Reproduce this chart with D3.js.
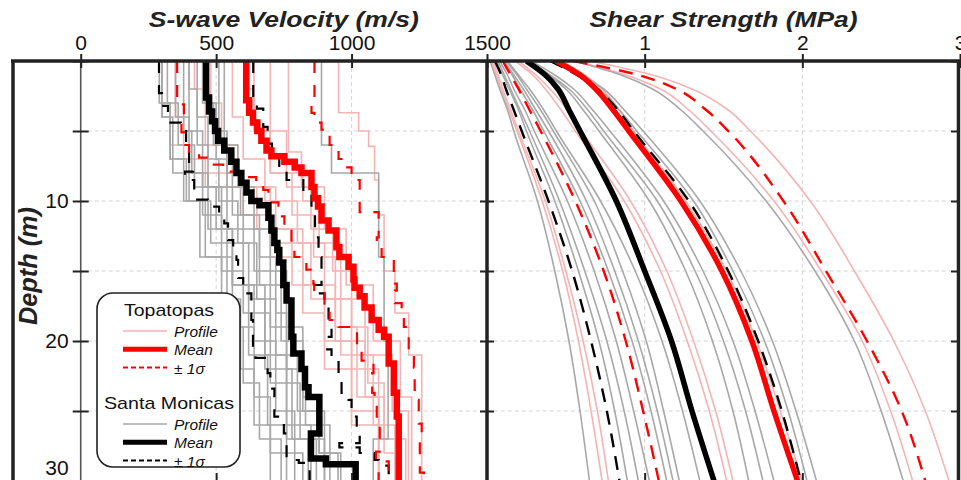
<!DOCTYPE html>
<html><head><meta charset="utf-8">
<script src="https://cdn.jsdelivr.net/npm/d3@7"></script>
<style>
body{margin:0;background:#fff;}
svg{display:block;font-family:"Liberation Sans",Arial,sans-serif;}
</style></head><body>
<svg id="chart" width="961" height="480"></svg>
<script>
// ---- axis ticks ----
const velocityTicks = [0, 500, 1000, 1500];
const strengthTicks = [1, 2, 3];
const depthTicks = [0, 5, 10, 15, 20, 25, 30];
const depthLabels = [10, 20, 30];

// ---- S-wave velocity profiles: layer tops (m) and Vs (m/s) ----
const smProfileTops = [
  [0,4,7,10,14,19,24,28], [0,3,6,9,12,16,21,26], [0,5,8,11,15,18,23,27],
  [0,2,6,9,13,17,22,27], [0,4,7,10,13,17,21,25], [0,3,6,9,12,16,20,25,28],
  [0,5,8,11,14,18,22,26], [0,3,7,10,14,19,23,27], [0,4,8,12,16,20,25],
  [0,6,9,12,15,19,24,28], [0,6,8,14,20,27], [0,3,7,11,15,19,23,27],
  [0,4,8,10,13,17,22,26], [0,5,9,12,16,21,26]
];
const smProfileVs = [
  [300,330,380,440,560,640,700,820], [320,360,420,500,560,620,690,760], [380,410,450,520,600,700,760,870],
  [400,430,470,540,620,680,780,840], [430,470,510,580,650,720,800,900], [450,490,540,600,660,740,820,880,950],
  [510,540,590,660,720,760,830,920], [290,330,390,460,520,600,660,740], [350,400,470,560,640,720,790],
  [530,580,640,700,760,820,880,960], [889,926,1100,1120,1135,1080], [460,500,560,640,700,760,810,900],
  [300,340,400,480,540,590,640,700], [400,450,520,600,680,760,850]
];
const tpProfileTops = [
  [0,3,6,8,11,14,18,22,26], [0,4,7,9,12,16,20,25], [0,2,5,8,10,13,17,21,25],
  [0,6.5,9,12,16,20,24], [0,3.7,5,6.1,8.5,11,15,18,21], [0,4,7,10,13,17,22,27],
  [0,3,6,9,12,16,20,24,28], [0,5,8,11,14,19,24], [0,2,6,9,13,17,21,26],
  [0,5,9,12,15,19,23,27]
];
const tpProfileVs = [
  [300,330,400,600,700,820,900,1000,1100], [350,380,460,650,780,900,1000,1100], [620,640,700,820,880,960,1050,1150,1210],
  [767,815,900,980,1080,1180,1222], [952,1026,1063,1085,1100,1120,1160,1211,1259], [560,600,680,800,900,1000,1100,1170],
  [480,520,580,700,820,940,1050,1120,1180], [640,700,780,860,940,1020,1100], [420,460,540,720,850,960,1080,1160],
  [700,760,850,930,1000,1060,1120,1200]
];

// mean and ±1σ velocity profiles
const smMeanTops = [0,2.6,3.6,4.3,5.0,5.7,6.4,7.2,8.0,8.7,9.4,10.0,10.3,11.2,12.1,13.0,13.5,14.4,16.0,17.1,19.7,20.9,22.0,23.3,24.0,26.6,28.4,28.8];
const smMeanVs   = [463,474,485,496,507,530,556,575,593,612,630,660,693,704,715,726,733,748,760,778,785,815,828,841,881,850,905,1015];
const smLowTops  = [0,2.3,3.2,4.4,5.0,6.0,7.2,7.9,8.5,9.4,9.9,10.4,11.0,11.6,12.8,13.5,14.2,15.5,16.6,18.5,20.6,21.2,22.3,23.4,25.4,26.6,28.5,28.7];
const smLowVs    = [289,300,322,370,389,400,415,385,419,430,470,511,530,544,563,575,581,600,630,636,645,690,700,715,750,760,805,845];
const smHighTops = [0,2.8,3.4,4.7,5.9,6.5,7.5,8.5,9.2,10.5,12.6,14.0,16.0,16.6,17.3,18.7,19.7,20.6,21.4,23.0,23.7,24.2,25.4,26.6,27.3,27.6,28.0,28.5,28.9];
const smHighVs   = [637,650,674,690,706,733,760,822,852,865,878,889,863,900,915,926,910,926,952,963,989,1000,1019,1030,955,1030,1085,1100,1137];
const tpMeanTops = [0,2.8,3.7,4.4,5.0,5.7,6.4,6.8,7.2,7.6,8.0,9.0,9.8,10.4,11.4,12.1,13.3,14.0,14.7,15.6,16.2,16.8,17.6,18.5,19.2,19.7,21.6,23.7,25.4];
const tpMeanVs   = [611,622,636,652,667,686,704,752,790,815,852,863,876,889,915,944,955,989,1007,1011,1030,1048,1074,1100,1120,1137,1156,1167,1174];
const tpLowTops  = [0,2.6,3.1,4.4,5.1,6.0,6.5,6.9,7.4,7.9,8.3,8.7,9.2,10.1,11.1,12.0,13.5,14.0,14.9,15.9,16.6,17.6,18.5,19.0,20.4,21.4,22.3,23.7,24.2,26.1,27.9,28.6,29.2];
const tpLowVs    = [356,360,381,372,381,400,437,470,526,610,648,674,693,730,752,778,789,833,859,862,900,919,952,1020,1037,1081,1076,1085,1093,1104,1090,1137,1100];
const tpHighTops = [0,2.6,3.7,4.4,4.9,6.0,7.0,7.6,8.5,10.8,12.6,13.3,14.0,15.9,16.4,17.3,18.0,19.0,20.9,21.9,23.5,24.2,25.9,27.1,29.4];
const tpHighVs   = [863,852,863,889,919,952,974,1000,1030,1100,1093,1111,1156,1167,1160,1185,1193,1211,1230,1233,1241,1248,1259,1252,1267];

// ---- shear strength (MPa) sampled at these depths (m) ----
const strengthDepths = [0, 1, 2, 3.5, 5, 10, 15, 20, 25, 30];
const smStrength = [
  [0.02,0.05,0.08,0.13,0.17,0.32,0.43,0.52,0.59,0.65],
  [0.06,0.10,0.14,0.20,0.25,0.43,0.58,0.71,0.81,0.89],
  [0.07,0.11,0.15,0.21,0.27,0.46,0.62,0.76,0.87,0.96],
  [0.08,0.13,0.17,0.24,0.30,0.51,0.68,0.82,0.93,1.03],
  [0.10,0.16,0.21,0.29,0.36,0.59,0.77,0.92,1.04,1.14],
  [0.11,0.17,0.23,0.31,0.39,0.63,0.81,0.96,1.08,1.18],
  [0.12,0.19,0.25,0.34,0.42,0.68,0.86,1.01,1.12,1.22],
  [0.13,0.20,0.27,0.36,0.44,0.72,0.94,1.11,1.24,1.35],
  [0.25,0.39,0.50,0.61,0.71,1.03,1.26,1.43,1.56,1.66],
  [0.26,0.40,0.52,0.64,0.74,1.08,1.32,1.50,1.64,1.75],
  [0.28,0.43,0.55,0.67,0.78,1.12,1.37,1.56,1.70,1.82],
  [0.40,0.57,0.71,0.84,0.95,1.31,1.56,1.76,1.91,2.03],
  [0.42,0.60,0.74,0.87,0.99,1.35,1.61,1.81,1.96,2.09],
  [0.55,0.85,1.05,1.23,1.37,1.77,2.08,2.33,2.50,2.64]
];
const tpStrength = [
  [0.03,0.06,0.09,0.14,0.19,0.35,0.48,0.58,0.66,0.73],
  [0.04,0.07,0.10,0.15,0.20,0.37,0.50,0.61,0.70,0.77],
  [0.18,0.29,0.37,0.47,0.56,0.87,1.10,1.27,1.41,1.52],
  [0.20,0.31,0.40,0.51,0.60,0.91,1.14,1.31,1.45,1.56],
  [0.47,0.62,0.73,0.84,0.93,1.26,1.52,1.71,1.86,2.00],
  [0.56,0.88,1.10,1.28,1.42,1.82,2.12,2.38,2.56,2.70],
  [0.65,1.05,1.30,1.53,1.67,2.05,2.33,2.58,2.78,2.93]
];
const smStrengthMean = [0.25,0.37,0.45,0.52,0.59,0.82,1.00,1.17,1.30,1.44];
const smStrengthLow  = [0.05,0.09,0.12,0.17,0.22,0.39,0.54,0.66,0.76,0.84];
const smStrengthHigh = [0.40,0.57,0.70,0.83,0.93,1.28,1.53,1.72,1.87,1.99];
const tpStrengthMean = [0.44,0.59,0.69,0.80,0.90,1.23,1.49,1.68,1.82,1.97];
const tpStrengthLow  = [0.10,0.15,0.20,0.27,0.34,0.56,0.74,0.88,0.99,1.09];
const tpStrengthHigh = [0.55,0.96,1.20,1.39,1.53,1.88,2.15,2.41,2.63,2.78];

// ---- colours ----
const smColor = "#a8a8a8", tpColor = "#f4b4b4", red = "#ff0000", ink = "#222";
const font = "'Liberation Sans', Arial, sans-serif";

const svg = d3.select("#chart");
const xV = d3.scaleLinear().domain([-250, 1500]).range([13, 487]);
const xS = d3.scaleLinear().domain([0, 3]).range([487, 960]);
const yD = d3.scaleLinear().domain([0, 30]).range([61, 481]);

const defs = svg.append("defs");
defs.append("clipPath").attr("id", "clipL").append("rect").attr("x", 13).attr("y", 61).attr("width", 474).attr("height", 420);
defs.append("clipPath").attr("id", "clipR").append("rect").attr("x", 487).attr("y", 61).attr("width", 472).attr("height", 420);

// grid
const grid = svg.append("g").attr("stroke", "#d4d4d4").attr("stroke-width", 1).attr("stroke-dasharray", "4,3");
[5,10,15,20,25].forEach(d => {
  grid.append("line").attr("x1", xV(0)).attr("x2", 958).attr("y1", yD(d)).attr("y2", yD(d));
});
[500, 1000].forEach(v => grid.append("line").attr("x1", xV(v)).attr("x2", xV(v)).attr("y1", 61).attr("y2", 481));
[1, 2].forEach(v => grid.append("line").attr("x1", xS(v)).attr("x2", xS(v)).attr("y1", 61).attr("y2", 481));

// depth axis line inside the left panel
svg.append("line").attr("x1", xV(0)).attr("x2", xV(0)).attr("y1", 61).attr("y2", 481)
  .attr("stroke", "#555").attr("stroke-width", 1.6);

// ---- left panel: step profiles ----
const stepLine = d3.line().x(d => xV(d[1])).y(d => yD(d[0])).curve(d3.curveStepBefore);
function stepPoints(tops, vs) {
  const pts = tops.map((t, i) => [t, vs[i]]);
  pts.push([30, vs[vs.length - 1]]);
  return pts;
}
const gL = svg.append("g").attr("clip-path", "url(#clipL)").attr("fill", "none");
tpProfileTops.forEach((t, i) => gL.append("path").attr("d", stepLine(stepPoints(t, tpProfileVs[i])))
  .attr("stroke", tpColor).attr("stroke-width", 1.6));
smProfileTops.forEach((t, i) => gL.append("path").attr("d", stepLine(stepPoints(t, smProfileVs[i])))
  .attr("stroke", smColor).attr("stroke-width", 1.6));
[[smLowTops, smLowVs, "#000"], [smHighTops, smHighVs, "#000"], [tpLowTops, tpLowVs, red], [tpHighTops, tpHighVs, red]]
  .forEach(([t, v, c]) => gL.append("path").attr("d", stepLine(stepPoints(t, v)))
    .attr("stroke", c).attr("stroke-width", 2.2).attr("stroke-dasharray", "12,12"));
gL.append("path").attr("d", stepLine(stepPoints(smMeanTops, smMeanVs))).attr("stroke", "#000").attr("stroke-width", 6.5);
gL.append("path").attr("d", stepLine(stepPoints(tpMeanTops, tpMeanVs))).attr("stroke", red).attr("stroke-width", 6.5);

// ---- right panel: shear strength curves ----
const strengthLine = d3.line().x(d => xS(d[1])).y(d => yD(d[0])).curve(d3.curveMonotoneY);
const pairs = vals => strengthDepths.map((d, i) => [d, vals[i]]);
const gR = svg.append("g").attr("clip-path", "url(#clipR)").attr("fill", "none");
tpStrength.forEach(v => gR.append("path").attr("d", strengthLine(pairs(v))).attr("stroke", tpColor).attr("stroke-width", 1.6));
smStrength.forEach(v => gR.append("path").attr("d", strengthLine(pairs(v))).attr("stroke", smColor).attr("stroke-width", 1.6));
[[smStrengthLow, "#000"], [smStrengthHigh, "#000"], [tpStrengthLow, red], [tpStrengthHigh, red]]
  .forEach(([v, c]) => gR.append("path").attr("d", strengthLine(pairs(v)))
    .attr("stroke", c).attr("stroke-width", 2.4).attr("stroke-dasharray", "14,9"));
gR.append("path").attr("d", strengthLine(pairs(smStrengthMean))).attr("stroke", "#000").attr("stroke-width", 5.5);
gR.append("path").attr("d", strengthLine(pairs(tpStrengthMean))).attr("stroke", red).attr("stroke-width", 5.5);

// ---- axes ----
function styleAxis(g) {
  g.select(".domain").remove();
  g.selectAll(".tick line").attr("stroke", ink).attr("stroke-width", 2);
  g.selectAll(".tick text").attr("fill", "#111").attr("font-size", 21).attr("font-family", font);
}
const fmt = d3.format("d");
svg.append("g").attr("transform", "translate(0,61)")
  .call(d3.axisTop(xV).tickValues(velocityTicks).tickSize(7).tickPadding(4).tickFormat(fmt)).call(styleAxis);
svg.append("g").attr("transform", "translate(0,61)")
  .call(d3.axisBottom(xV).tickValues(velocityTicks).tickSize(7).tickFormat("")).call(styleAxis);
svg.append("g").attr("transform", "translate(0,61)")
  .call(d3.axisTop(xS).tickValues(strengthTicks).tickSize(7).tickPadding(4).tickFormat(fmt)).call(styleAxis);
svg.append("g").attr("transform", "translate(0,61)")
  .call(d3.axisBottom(xS).tickValues(strengthTicks).tickSize(7).tickFormat("")).call(styleAxis);
// bottom inward ticks
svg.append("g").attr("transform", "translate(0,481)")
  .call(d3.axisTop(xV).tickValues([500, 1000]).tickSize(8).tickFormat("")).call(styleAxis);
svg.append("g").attr("transform", "translate(0,481)")
  .call(d3.axisTop(xS).tickValues([1, 2]).tickSize(8).tickFormat("")).call(styleAxis);
// depth axis
const depthAxis = svg.append("g").attr("transform", `translate(${xV(0)},0)`)
  .call(d3.axisLeft(yD).tickValues(depthTicks).tickSize(8).tickPadding(4)
    .tickFormat(d => depthLabels.includes(d) ? d : "")).call(styleAxis);
// the deepest label sits just above the lower edge
depthAxis.selectAll(".tick text").filter(d => d === 30).attr("dy", "-0.3em");
svg.append("g").attr("transform", `translate(${xV(0)},0)`)
  .call(d3.axisRight(yD).tickValues(depthTicks).tickSize(8).tickFormat("")).call(styleAxis);
// ticks on the panel divider and right border
svg.append("g").attr("transform", "translate(487,0)")
  .call(d3.axisLeft(yD).tickValues(depthTicks).tickSize(7).tickFormat("")).call(styleAxis);
svg.append("g").attr("transform", "translate(487,0)")
  .call(d3.axisRight(yD).tickValues(depthTicks).tickSize(7).tickFormat("")).call(styleAxis);
svg.append("g").attr("transform", "translate(958,0)")
  .call(d3.axisLeft(yD).tickValues(depthTicks).tickSize(7).tickFormat("")).call(styleAxis);

// frame
const frame = svg.append("g").attr("stroke", ink).attr("stroke-width", 3.5);
frame.append("line").attr("x1", 11).attr("x2", 961).attr("y1", 61).attr("y2", 61);
frame.append("line").attr("x1", 13).attr("x2", 13).attr("y1", 61).attr("y2", 481);
frame.append("line").attr("x1", 487).attr("x2", 487).attr("y1", 61).attr("y2", 481);
frame.append("line").attr("x1", 958.5).attr("x2", 958.5).attr("y1", 61).attr("y2", 481);

// titles
function title(x, y, txt, len, size) {
  return svg.append("text").attr("x", x).attr("y", y).attr("text-anchor", "middle")
    .attr("font-family", font).attr("font-size", size).attr("font-weight", "bold").attr("font-style", "italic")
    .attr("fill", "#222").attr("textLength", len).attr("lengthAdjust", "spacingAndGlyphs").text(txt);
}
title((xV(0) + xV(1500)) / 2, 27, "S-wave Velocity (m/s)", 270, 22);
title((xS(0) + xS(3)) / 2, 27, "Shear Strength (MPa)", 268, 22);
title(0, 0, "Depth (m)", 118, 25).attr("transform", "translate(37,266) rotate(-90)");

// legend
const lg = svg.append("g").attr("font-family", font);
lg.append("rect").attr("x", 97).attr("y", 293).attr("width", 143).attr("height", 174).attr("rx", 16)
  .attr("fill", "#fff").attr("stroke", ink).attr("stroke-width", 1.6);
const legendGroups = [
  {title: "Topatopas", len: 90, y: 316, profile: tpColor, mean: red, sigma: red},
  {title: "Santa Monicas", len: 130, y: 409, profile: smColor, mean: "#000", sigma: "#000"}
];
legendGroups.forEach(gp => {
  lg.append("text").attr("x", 169).attr("y", gp.y).attr("text-anchor", "middle").attr("font-size", 17)
    .attr("textLength", gp.len).attr("lengthAdjust", "spacingAndGlyphs").attr("fill", "#111").text(gp.title);
  const rows = [
    {label: "Profile", color: gp.profile, w: 1.6, dash: null},
    {label: "Mean", color: gp.mean, w: 5, dash: null},
    {label: "\u00b1 1\u03c3", color: gp.sigma, w: 2, dash: "5,3"}
  ];
  rows.forEach((r, i) => {
    const yy = gp.y + 15 + i * 18.3;
    lg.append("line").attr("x1", 123).attr("x2", 167).attr("y1", yy).attr("y2", yy)
      .attr("stroke", r.color).attr("stroke-width", r.w).attr("stroke-dasharray", r.dash);
    lg.append("text").attr("x", 174).attr("y", yy + 6).attr("font-size", 15.5).attr("font-style", "italic")
      .attr("fill", "#111").text(r.label);
  });
});
</script></body></html>
